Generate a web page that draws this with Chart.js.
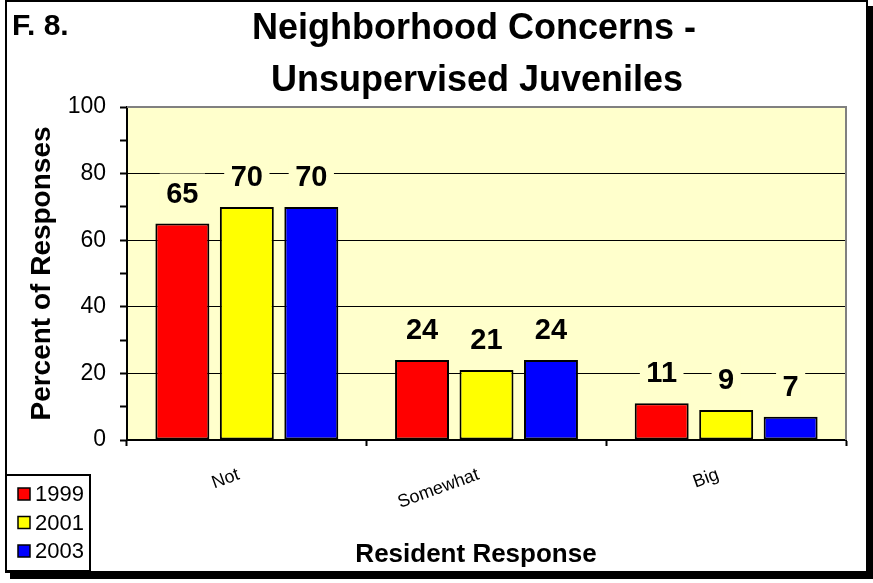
<!DOCTYPE html>
<html><head><meta charset="utf-8">
<script src="https://cdn.jsdelivr.net/npm/chart.js@4"></script>
<style>
html,body{margin:0;padding:0;background:#fff;overflow:hidden}
#wrap{position:relative;width:873px;height:583px}
#frame{position:absolute;left:5px;top:0;width:863px;height:573px;box-sizing:border-box;border:2px solid #000;box-shadow:5px 6px 0 0 #000;background:#fff}
#c{position:absolute;left:0;top:0}
</style></head><body>
<div id="wrap"><div id="frame"></div><canvas id="c" width="873" height="583"></canvas></div>
<script>
const categories = ['Not', 'Somewhat', 'Big'];
const seriesNames = ['1999', '2001', '2003'];
const values1999 = [65, 24, 11];
const values2001 = [70, 21, 9];
const values2003 = [70, 24, 7];
const seriesColors = ['#FF0000', '#FFFF00', '#0000FF'];
const yLabelValues = [0, 20, 40, 60, 80, 100];
const titleLines = ['Neighborhood Concerns -', 'Unsupervised Juveniles'];
const figLabel = 'F. 8.';
const yTitle = 'Percent of Responses';
const xTitle = 'Resident Response';

const FONT = "'Liberation Sans', Arial, sans-serif";
const PLOT_BG = '#FFFFCC';

const decor = {
  id: 'decor',
  beforeDraw(chart) {
    const { ctx, chartArea: a } = chart;
    ctx.save();
    ctx.fillStyle = PLOT_BG;
    ctx.fillRect(a.left, a.top, a.right - a.left, a.bottom - a.top);
    ctx.restore();
  },
  afterDatasetsDraw(chart) {
    const ctx = chart.ctx;
    ctx.save();
    ctx.font = 'bold 29px ' + FONT;
    ctx.textAlign = 'center';
    ctx.textBaseline = 'middle';
    chart.data.datasets.forEach((ds, i) => {
      const meta = chart.getDatasetMeta(i);
      meta.data.forEach((bar, j) => {
        const txt = String(ds.data[j]);
        const w = ctx.measureText(txt).width + 13;
        const cy = bar.y - 30;
        ctx.fillStyle = PLOT_BG;
        ctx.fillRect(bar.x - w / 2, cy - 20, w, 40);
        ctx.fillStyle = '#000';
        ctx.fillText(txt, bar.x, cy + 1);
      });
    });
    ctx.restore();
  },
  afterDraw(chart) {
    const { ctx, chartArea: a } = chart;
    ctx.save();
    // grey top/right plot border
    ctx.strokeStyle = '#808080';
    ctx.lineWidth = 2;
    ctx.beginPath();
    ctx.moveTo(a.left, a.top);
    ctx.lineTo(a.right, a.top);
    ctx.lineTo(a.right, a.bottom);
    ctx.stroke();
    // titles
    ctx.fillStyle = '#000';
    ctx.textBaseline = 'alphabetic';
    ctx.textAlign = 'center';
    ctx.font = 'bold 36px ' + FONT;
    ctx.fillText(titleLines[0], 474, 39);
    ctx.fillText(titleLines[1], 477, 91);
    ctx.font = 'bold 26px ' + FONT;
    ctx.fillText(xTitle, 476, 562);
    ctx.textAlign = 'left';
    ctx.font = 'bold 30px ' + FONT;
    ctx.fillText(figLabel, 12, 35);
    // legend box
    ctx.fillStyle = '#fff';
    ctx.fillRect(6, 475, 84, 96);
    ctx.strokeStyle = '#000';
    ctx.lineWidth = 2;
    ctx.strokeRect(6, 475, 84, 96);
    ctx.font = '22px ' + FONT;
    ctx.textBaseline = 'middle';
    chart.data.datasets.forEach((ds, i) => {
      const cy = 494 + i * 28.5;
      ctx.fillStyle = ds.backgroundColor;
      ctx.fillRect(18, cy - 6, 12, 12);
      ctx.lineWidth = 1.5;
      ctx.strokeStyle = '#000';
      ctx.strokeRect(18, cy - 6, 12, 12);
      ctx.fillStyle = '#000';
      ctx.fillText(ds.label, 35, cy + 1);
    });
    ctx.restore();
  }
};

const allSeries = [values1999, values2001, values2003];
const datasets = allSeries.map((vals, i) => ({
  label: seriesNames[i],
  data: vals,
  backgroundColor: seriesColors[i],
  borderColor: '#000',
  borderWidth: 2,
  borderSkipped: false,
  categoryPercentage: 0.807,
  barPercentage: 0.837
}));

new Chart(document.getElementById('c'), {
  type: 'bar',
  data: { labels: categories, datasets },
  plugins: [decor],
  options: {
    responsive: false,
    animation: false,
    events: [],
    layout: { padding: { left: 0, top: 107, right: 27, bottom: 0 } },
    plugins: { legend: { display: false }, tooltip: { enabled: false }, title: { display: false } },
    scales: {
      x: {
        afterFit(s) { s.height = 143; },
        offset: true,
        border: { display: true, color: '#000', width: 2 },
        grid: { display: true, offset: true, drawOnChartArea: false, drawTicks: true, tickLength: 6, tickColor: '#000', tickWidth: 2, color: 'rgba(0,0,0,0)' },
        ticks: { color: '#000', font: { family: FONT, size: 18 }, minRotation: 20, maxRotation: 20, padding: 18, labelOffset: -8, autoSkip: false },
        title: { display: false }
      },
      y: {
        afterFit(s) { s.width = 127; },
        min: 0, max: 100,
        border: { display: true, color: '#000', width: 2 },
        grid: {
          drawTicks: true, tickLength: 7, tickColor: '#000', tickWidth: 2, lineWidth: 1,
          color: (c) => { const v = c.tick ? c.tick.value : 0; return (yLabelValues.includes(v) && v > 0 && v < 100) ? '#000' : 'rgba(0,0,0,0)'; }
        },
        ticks: {
          stepSize: 10, autoSkip: false, color: '#000', padding: 14,
          font: { family: FONT, size: 23 },
          callback: (v) => yLabelValues.includes(v) ? String(v) : ''
        },
        title: { display: true, text: yTitle, color: '#000', font: { family: FONT, size: 28, weight: 'bold' }, padding: { top: 25, bottom: 0 } }
      }
    }
  }
});
</script>
</body></html>
